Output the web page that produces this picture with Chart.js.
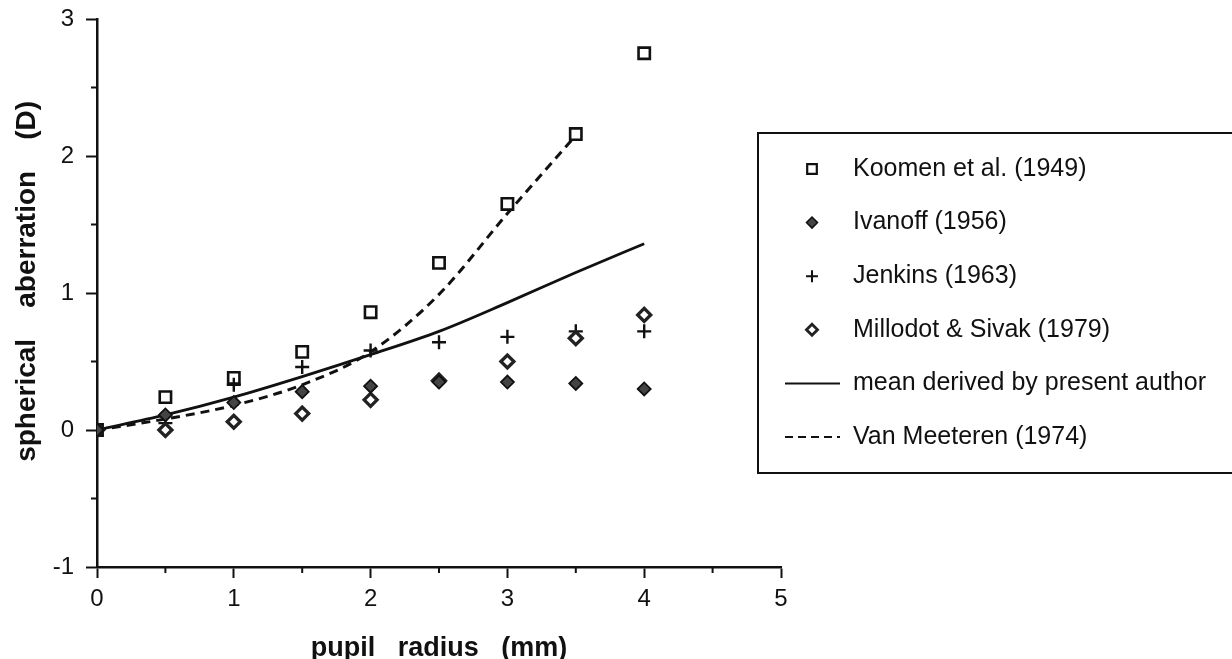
<!DOCTYPE html>
<html>
<head>
<meta charset="utf-8">
<script src="https://cdn.jsdelivr.net/npm/chart.js@4"></script>
<style>
  html, body { margin: 0; padding: 0; background: #fff; }
  #wrap { width: 1232px; height: 659px; position: relative; }
</style>
</head>
<body>
<div id="wrap"><canvas id="c"></canvas></div>
<script>
// ---- data ----
const radius = [0, 0.5, 1, 1.5, 2, 2.5, 3, 3.5, 4];
const koomen = [0, 0.24, 0.38, 0.57, 0.86, 1.22, 1.65, 2.16, 2.75];
const ivanoff = [0, 0.11, 0.20, 0.28, 0.32, 0.35, 0.35, 0.34, 0.30];
const jenkins = [0, 0.05, 0.33, 0.46, 0.58, 0.64, 0.68, 0.72, 0.72];
const millodot = [0, 0.00, 0.06, 0.12, 0.22, 0.36, 0.50, 0.67, 0.84];
const meanLine = [0, 0.11, 0.24, 0.39, 0.55, 0.72, 0.93, 1.15, 1.36];
const vanMeeterenX = [0, 0.5, 1, 1.5, 2, 2.5, 3, 3.5];
const vanMeeteren = [0, 0.08, 0.18, 0.33, 0.57, 0.99, 1.58, 2.15];

const seriesLabels = [
  'Koomen et al. (1949)',
  'Ivanoff (1956)',
  'Jenkins (1963)',
  'Millodot & Sivak (1979)',
  'mean derived by present author',
  'Van Meeteren (1974)'
];
const xTitle = 'pupil   radius   (mm)';
const yTitle = '   spherical    aberration    (D)';

function pts(xs, ys) { return xs.map((x, i) => ({ x: x, y: ys[i] })); }

const FONT = "'Liberation Sans', Arial, Helvetica, sans-serif";

const datasets = [
  { label: seriesLabels[0], data: pts(radius, koomen), showLine: false, order: 3,
    pointStyle: 'rect', pointRadius: 8, backgroundColor: '#fff', borderColor: '#111', pointBorderWidth: 2.6 },
  { label: seriesLabels[1], data: pts(radius, ivanoff), showLine: false, order: 0,
    pointStyle: 'rectRot', pointRadius: 6.5, backgroundColor: '#444', borderColor: '#111', pointBorderWidth: 1.8 },
  { label: seriesLabels[2], data: pts(radius, jenkins), showLine: false, order: 2,
    pointStyle: 'cross', pointRadius: 7, backgroundColor: '#111', borderColor: '#111', pointBorderWidth: 2.4 },
  { label: seriesLabels[3], data: pts(radius, millodot), showLine: false, order: 1,
    pointStyle: 'rectRot', pointRadius: 6.5, backgroundColor: '#fff', borderColor: '#222', pointBorderWidth: 3.3 },
  { label: seriesLabels[4], data: pts(radius, meanLine), showLine: true, pointRadius: 0, order: 4,
    borderColor: '#111', borderWidth: 2.8, cubicInterpolationMode: 'monotone', fill: false },
  { label: seriesLabels[5], data: pts(vanMeeterenX, vanMeeteren), showLine: true, pointRadius: 0, order: 4,
    borderColor: '#111', borderWidth: 3, borderDash: [9, 6], cubicInterpolationMode: 'monotone', fill: false }
];

const minorTicks = {
  id: 'minorTicks',
  afterDraw(chart) {
    const { ctx, chartArea: a, scales: { x, y } } = chart;
    ctx.save();
    ctx.strokeStyle = '#111';
    ctx.lineWidth = 2;
    x.ticks.filter(t => !Number.isInteger(t.value)).forEach(t => {
      const px = x.getPixelForValue(t.value);
      ctx.beginPath(); ctx.moveTo(px, a.bottom); ctx.lineTo(px, a.bottom + 6); ctx.stroke();
    });
    y.ticks.filter(t => !Number.isInteger(t.value)).forEach(t => {
      const py = y.getPixelForValue(t.value);
      ctx.beginPath(); ctx.moveTo(a.left, py); ctx.lineTo(a.left - 6, py); ctx.stroke();
    });
    ctx.restore();
  }
};

const boxLegend = {
  id: 'boxLegend',
  afterDraw(chart) {
    const ctx = chart.ctx;
    const box = { left: 758, top: 133, right: 1240, bottom: 473 };
    ctx.save();
    ctx.strokeStyle = '#111';
    ctx.lineWidth = 2;
    ctx.strokeRect(box.left, box.top, box.right - box.left, box.bottom - box.top);
    const y0 = 169, step = 53.6, mx = 812, tx = 853;
    chart.data.datasets.forEach((ds, i) => {
      const yy = y0 + i * step;
      if (ds.showLine) {
        ctx.save();
        ctx.strokeStyle = ds.borderColor;
        ctx.lineWidth = 2;
        ctx.setLineDash(ds.borderDash ? [8, 5] : []);
        ctx.beginPath(); ctx.moveTo(785, yy); ctx.lineTo(840, yy); ctx.stroke();
        ctx.restore();
      } else {
        ctx.save();
        ctx.fillStyle = ds.backgroundColor;
        ctx.strokeStyle = ds.borderColor;
        ctx.lineWidth = ds.pointBorderWidth * 0.85;
        Chart.helpers.drawPoint(ctx, { pointStyle: ds.pointStyle, radius: ds.pointRadius * 0.85, rotation: 0, borderWidth: ds.pointBorderWidth * 0.85 }, mx, yy);
        ctx.restore();
      }
      ctx.fillStyle = '#111';
      ctx.font = '25px ' + FONT;
      ctx.textBaseline = 'middle';
      ctx.textAlign = 'left';
      ctx.fillText(ds.label, tx, yy);
    });
    ctx.restore();
  }
};

const tickCol = c => (c.tick && Number.isInteger(c.tick.value)) ? '#111' : 'rgba(0,0,0,0)';

new Chart(document.getElementById('c'), {
  type: 'scatter',
  data: { datasets: datasets },
  options: {
    responsive: true,
    maintainAspectRatio: false,
    animation: false,
    layout: { padding: { top: 19, right: 451, bottom: 0, left: 0 } },
    plugins: { legend: { display: false }, tooltip: { enabled: false } },
    scales: {
      x: {
        type: 'linear', min: 0, max: 5,
        afterFit(s) { s.height = 92; },
        border: { display: true, color: '#111', width: 2.5 },
        grid: { drawOnChartArea: false, drawTicks: true, tickLength: 11, tickWidth: 2, tickColor: tickCol },
        ticks: {
          stepSize: 0.5, autoSkip: false, maxRotation: 0, padding: 7, color: '#111',
          font: { family: FONT, size: 24 },
          callback: v => Number.isInteger(v) ? String(v) : ''
        },
        title: {
          display: true, text: xTitle, color: '#111',
          font: { family: FONT, size: 27, weight: 'bold', lineHeight: 0.8 },
          padding: { top: 0, bottom: 0 }
        }
      },
      y: {
        type: 'linear', min: -1, max: 3,
        afterFit(s) { s.width = 97; },
        border: { display: true, color: '#111', width: 2.5 },
        grid: { drawOnChartArea: false, drawTicks: true, tickLength: 11, tickWidth: 2, tickColor: tickCol },
        ticks: {
          stepSize: 0.5, autoSkip: false, padding: 12, color: '#111',
          font: { family: FONT, size: 24, lineHeight: 0.4 },
          callback: v => Number.isInteger(v) ? String(v) : ''
        },
        title: {
          display: true, text: yTitle, color: '#111',
          font: { family: FONT, size: 28, weight: 'bold', lineHeight: 1.2 },
          padding: { top: 10, bottom: 0 }
        }
      }
    }
  },
  plugins: [minorTicks, boxLegend]
});
</script>
</body>
</html>
